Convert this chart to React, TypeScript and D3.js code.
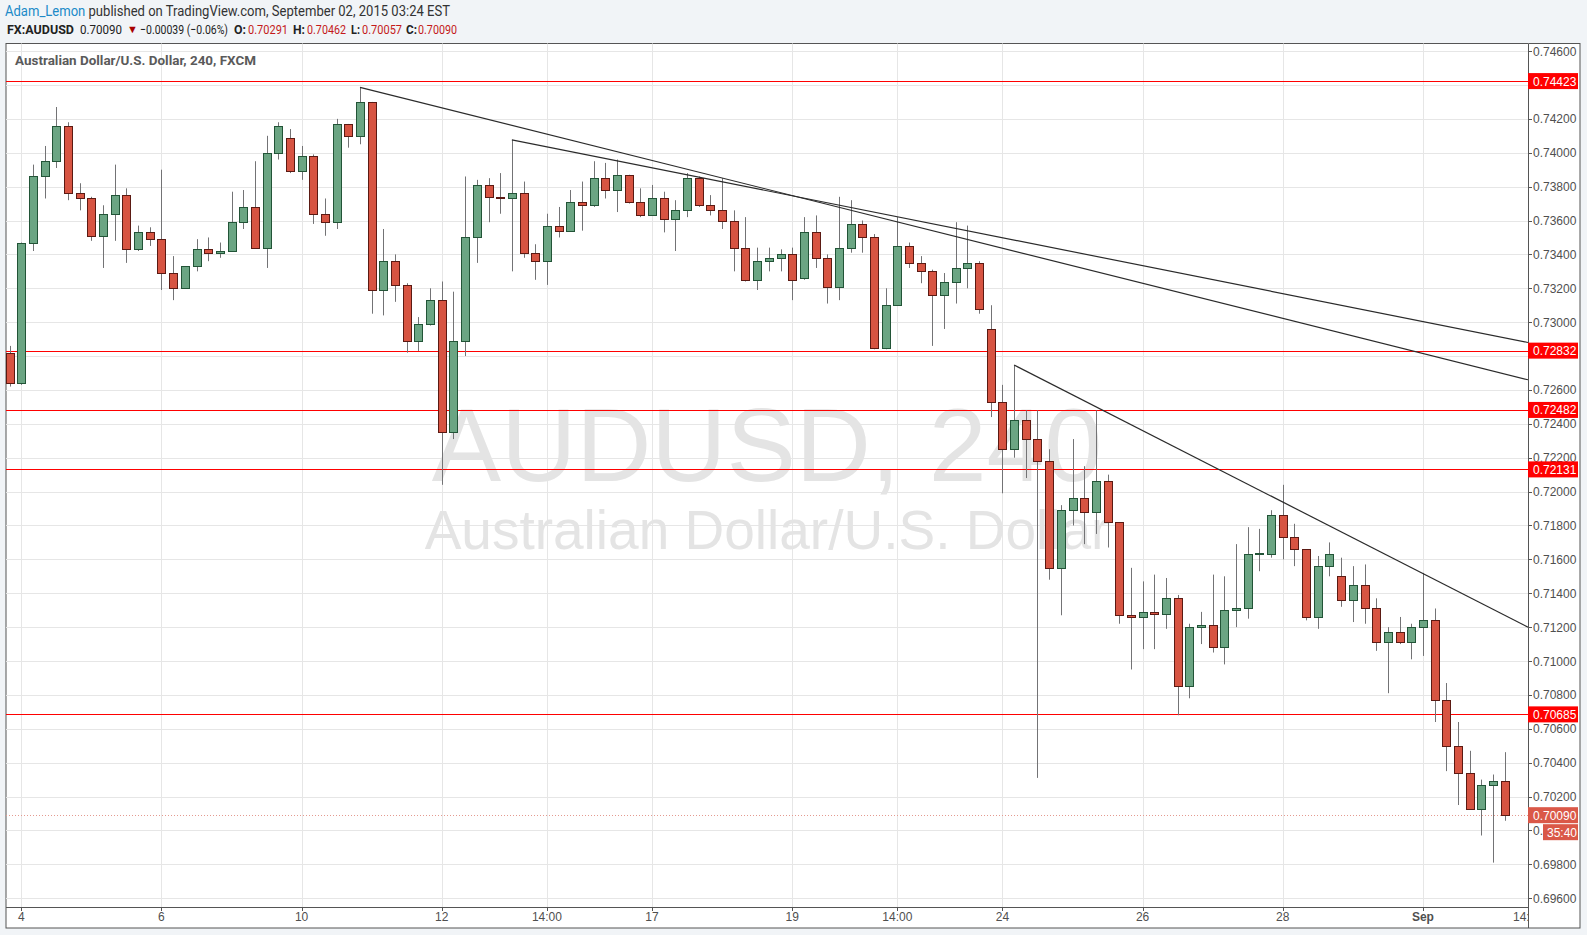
import * as d3 from "d3";

// 4h candles, AUD/USD, Aug 3 - Sep 2 2015
const opens = [
  0.7282, 0.7264, 0.7347, 0.7386, 0.7395, 0.7416, 0.7376, 0.7373, 0.7351, 0.7364,
  0.7375, 0.7343, 0.7353, 0.7349, 0.7329, 0.732, 0.7333, 0.7343, 0.7341, 0.7342,
  0.7359, 0.7368, 0.7344, 0.74, 0.7409, 0.7389, 0.7398, 0.7364, 0.7359, 0.7417,
  0.741, 0.743, 0.7319, 0.7336, 0.7322, 0.7289, 0.7299, 0.7313, 0.7235, 0.7289,
  0.735, 0.7381, 0.7374, 0.7373, 0.7376, 0.7341, 0.7336, 0.7357, 0.7354, 0.7371,
  0.7369, 0.7385, 0.7378, 0.7387, 0.7371, 0.7363, 0.7373, 0.7361, 0.7366, 0.7385,
  0.7369, 0.7366, 0.736, 0.7344, 0.7325, 0.7336, 0.7338, 0.734, 0.7326, 0.7353,
  0.7338, 0.7321, 0.7344, 0.7358, 0.735, 0.7285, 0.731, 0.7345, 0.7335, 0.733,
  0.7316, 0.7324, 0.7332, 0.7335, 0.7296, 0.7253, 0.7225, 0.7242, 0.7231, 0.7218,
  0.7155, 0.7189, 0.7196, 0.7188, 0.7206, 0.7182, 0.7127, 0.7126, 0.7129, 0.7128,
  0.7137, 0.7085, 0.712, 0.7121, 0.7108, 0.713, 0.7131, 0.7163, 0.7163, 0.7186,
  0.7173, 0.7166, 0.7126, 0.7156, 0.715, 0.7136, 0.7145, 0.7131, 0.7111, 0.7117,
  0.7111, 0.712, 0.7124, 0.7077, 0.705, 0.7034, 0.70125, 0.7027, 0.70291,
];
const highs = [
  0.7286, 0.7347, 0.7393, 0.7404, 0.7427, 0.7418, 0.7382, 0.7374, 0.7369, 0.7393,
  0.7379, 0.7357, 0.7356, 0.739, 0.7339, 0.7333, 0.7349, 0.735, 0.7347, 0.7377,
  0.7378, 0.7395, 0.741, 0.7418, 0.7414, 0.7404, 0.7399, 0.7373, 0.742, 0.7417,
  0.74386, 0.743, 0.7355, 0.734, 0.7323, 0.7303, 0.732, 0.7324, 0.7318, 0.7386,
  0.7384, 0.7385, 0.7388, 0.74076, 0.7383, 0.7346, 0.7364, 0.7368, 0.7378, 0.7383,
  0.7395, 0.7394, 0.7396, 0.7387, 0.7379, 0.7381, 0.7377, 0.7372, 0.7388, 0.7386,
  0.7375, 0.7385, 0.7366, 0.7362, 0.7344, 0.7344, 0.7343, 0.7344, 0.7362, 0.7363,
  0.734, 0.7374, 0.7372, 0.736, 0.7352, 0.732, 0.7362, 0.7347, 0.7339, 0.7331,
  0.7329, 0.7359, 0.7357, 0.7336, 0.731, 0.7263, 0.72747, 0.7248, 0.7248, 0.7225,
  0.7192, 0.7231, 0.7215, 0.7248, 0.721, 0.7182, 0.7155, 0.7147, 0.7151, 0.7149,
  0.7139, 0.7122, 0.7129, 0.7151, 0.715, 0.7169, 0.7179, 0.7178, 0.7189, 0.7204,
  0.7181, 0.7166, 0.7162, 0.717, 0.7161, 0.7156, 0.7157, 0.7137, 0.712, 0.7126,
  0.7122, 0.7152, 0.7131, 0.7087, 0.7064, 0.7047, 0.703, 0.7033, 0.70462,
];
const lows = [
  0.7262, 0.7263, 0.7342, 0.7373, 0.7391, 0.7372, 0.7366, 0.7348, 0.7332, 0.7348,
  0.7335, 0.7342, 0.7345, 0.7319, 0.7313, 0.732, 0.733, 0.7336, 0.7338, 0.7342,
  0.7355, 0.7344, 0.7332, 0.7396, 0.7388, 0.7384, 0.7358, 0.7351, 0.7355, 0.7403,
  0.7405, 0.7305, 0.7304, 0.7312, 0.7282, 0.7283, 0.7298, 0.7204, 0.7231, 0.728,
  0.7335, 0.7359, 0.7364, 0.733, 0.7338, 0.7325, 0.7322, 0.735, 0.7354, 0.7354,
  0.7368, 0.7373, 0.7365, 0.737, 0.7362, 0.7363, 0.7353, 0.7342, 0.7362, 0.7368,
  0.7363, 0.7355, 0.733, 0.7324, 0.7319, 0.733, 0.733, 0.7313, 0.7325, 0.7332,
  0.7311, 0.7313, 0.7341, 0.7341, 0.7284, 0.7284, 0.731, 0.7332, 0.7323, 0.7286,
  0.7296, 0.7311, 0.732, 0.7305, 0.7244, 0.7199, 0.722, 0.7208, 0.7031, 0.7148,
  0.7127, 0.718, 0.7169, 0.7175, 0.7167, 0.7122, 0.7095, 0.7107, 0.7107, 0.7119,
  0.7068, 0.7078, 0.711, 0.7105, 0.7098, 0.712, 0.7125, 0.7153, 0.7161, 0.716,
  0.7156, 0.7124, 0.7119, 0.715, 0.7132, 0.7123, 0.7122, 0.7106, 0.7081, 0.711,
  0.7101, 0.7103, 0.7064, 0.7035, 0.7015, 0.70125, 0.6997, 0.6981, 0.70057,
];
const closes = [
  0.7264, 0.7347, 0.7386, 0.7395, 0.7416, 0.7376, 0.7373, 0.7351, 0.7364, 0.7375,
  0.7343, 0.7353, 0.7349, 0.7329, 0.732, 0.7333, 0.7343, 0.7341, 0.7342, 0.7359,
  0.7368, 0.7344, 0.74, 0.7416, 0.7389, 0.7398, 0.7364, 0.7359, 0.7417, 0.741,
  0.743, 0.7319, 0.7336, 0.7322, 0.7289, 0.7299, 0.7313, 0.7235, 0.7289, 0.735,
  0.7381, 0.7374, 0.7373, 0.7376, 0.7341, 0.7336, 0.7357, 0.7354, 0.7371, 0.7369,
  0.7385, 0.7378, 0.7387, 0.7371, 0.7363, 0.7373, 0.7361, 0.7366, 0.7385, 0.7369,
  0.7366, 0.736, 0.7344, 0.7325, 0.7336, 0.7338, 0.734, 0.7325, 0.7353, 0.7338,
  0.7321, 0.7344, 0.7358, 0.735, 0.7285, 0.731, 0.7345, 0.7335, 0.733, 0.7316,
  0.7324, 0.7332, 0.7335, 0.7308, 0.7253, 0.7225, 0.7242, 0.7231, 0.7218, 0.7155,
  0.7189, 0.7196, 0.7188, 0.7206, 0.7182, 0.7127, 0.7126, 0.7129, 0.7128, 0.7137,
  0.7085, 0.712, 0.7121, 0.7108, 0.713, 0.7131, 0.7163, 0.7164, 0.7186, 0.7173,
  0.7166, 0.7126, 0.7156, 0.7163, 0.7136, 0.7145, 0.7131, 0.7111, 0.7117, 0.7111,
  0.712, 0.7124, 0.7077, 0.705, 0.7034, 0.70125, 0.7027, 0.70291, 0.7009,
];

const priceTicks = [
  0.696, 0.698, 0.7, 0.702, 0.704, 0.706, 0.708, 0.71, 0.712, 0.714, 0.716, 0.718,
  0.72, 0.722, 0.724, 0.726, 0.728, 0.73, 0.732, 0.734, 0.736, 0.738, 0.74, 0.742,
  0.744, 0.746,
];
const timeLabels = ["4", "6", "10", "12", "14:00", "17", "19", "14:00", "24", "26", "28", "Sep", "14:00"];
const timeBars = [1, 13, 25, 37, 46, 55, 67, 76, 85, 97, 109, 121, 130];

const levels = [0.74423, 0.72832, 0.72482, 0.72131, 0.70685];

// trend lines: start bar / price, end bar / price
const trendStart = [30, 43, 86];
const trendStartPrice = [0.74386, 0.74076, 0.72747];
const trendEnd = [130, 130, 130];
const trendEndPrice = [0.7266, 0.7288, 0.712];

const lastPrice = 0.7009;

const W = 1587;
const H = 935;
const left = 6;
const right = 1528;
const top = 43.5;
const bottom = 907;

const x = d3.scaleLinear().domain([1, 121]).range([21.3, 1422.9]);
const y = d3.scaleLinear().domain([0.696, 0.746]).range([898.2, 51.1]);

const UP_FILL = "#6ba583";
const UP_LINE = "#225437";
const DN_FILL = "#d75442";
const DN_LINE = "#5b1a13";
const WICK = "#737375";
const GRID = "#e6e6e6";
const AXIS_TXT = "#4f4f4f";
const HEAD_FONT = "Roboto, sans-serif";
const AX_FONT = "'Liberation Sans', Arial, sans-serif";

// header pieces: text, left, width, style
const quote = [
  { t: "FX:AUDUSD", x: 7, w: 67, b: true, c: "#222" },
  { t: "0.70090", x: 80, w: 42, b: false, c: "#222" },
  { t: "−0.00039 (−0.06%)", x: 140, w: 88, b: false, c: "#222" },
  { t: "O:", x: 234, w: 12, b: true, c: "#222" },
  { t: "0.70291", x: 248, w: 40, b: false, c: "#c41a1a" },
  { t: "H:", x: 293, w: 12, b: true, c: "#222" },
  { t: "0.70462", x: 307, w: 39, b: false, c: "#c41a1a" },
  { t: "L:", x: 351, w: 9, b: true, c: "#222" },
  { t: "0.70057", x: 362, w: 40, b: false, c: "#c41a1a" },
  { t: "C:", x: 406, w: 11, b: true, c: "#222" },
  { t: "0.70090", x: 418, w: 39, b: false, c: "#c41a1a" },
];

export default function App() {
  const candles = d3.range(opens.length).map((i) => ({
    i,
    o: opens[i],
    h: highs[i],
    l: lows[i],
    c: closes[i],
  }));

  // tick labels fully hidden behind a level box are not drawn
  const hidden = (p: number) => levels.some((l) => Math.abs(y(l) - y(p)) < 8);
  // the 0.70000 label sits under the countdown box
  const underTimer = (p: number) => Math.abs(p - 0.7) < 1e-9;

  return (
    <div style={{ position: "absolute", left: 0, top: 0 }}>
      <svg width={W} height={H} style={{ display: "block" }}>
        <defs>
          <clipPath id="plot">
            <rect x={left} y={top} width={right - left} height={bottom - top} />
          </clipPath>
          <clipPath id="timeAxis">
            <rect x={left} y={bottom} width={right - left} height={25} />
          </clipPath>
          <clipPath id="under3540">
            <rect x={right} y={0} width={1543 - right} height={H} />
          </clipPath>
        </defs>
        <rect width={W} height={H} fill="#f1f4f7" />

        {/* header */}
        <text x={5} y={16} fontFamily={HEAD_FONT} fontSize={14} fill="#333" textLength={445} lengthAdjust="spacingAndGlyphs">
          <tspan fill="#208ac8">Adam_Lemon</tspan>
          <tspan> published on TradingView.com, September 02, 2015 03:24 EST</tspan>
        </text>
        <g fontFamily={HEAD_FONT} fontSize={13.5}>
          {quote.map((q, k) => (
            <text
              key={k}
              x={q.x}
              y={34}
              fill={q.c}
              fontWeight={q.b ? "bold" : "normal"}
              textLength={q.w}
              lengthAdjust="spacingAndGlyphs"
            >
              {q.t}
            </text>
          ))}
          <text x={127} y={33} fill="#a80000" fontSize={11}>▼</text>
        </g>

        {/* chart frame */}
        <rect x={left} y={top} width={1580 - left} height={928 - top} fill="#fff" stroke="#555" strokeWidth={1} />

        {/* grid */}
        <g stroke={GRID} strokeWidth={1}>
          {priceTicks.map((p) => (
            <line key={p} x1={left} x2={right} y1={Math.round(y(p)) + 0.5} y2={Math.round(y(p)) + 0.5} />
          ))}
          {timeBars.map((b, k) => (
            <line key={k} x1={Math.round(x(b)) + 0.5} x2={Math.round(x(b)) + 0.5} y1={top} y2={bottom} />
          ))}
        </g>

        {/* watermark */}
        <g fill="#e4e4e4" fontFamily={AX_FONT} textAnchor="middle">
          <text x={(left + right) / 2} y={481} fontSize={104}>AUDUSD, 240</text>
          <text x={(left + right) / 2} y={549} fontSize={55}>Australian Dollar/U.S. Dollar</text>
        </g>

        <text x={15} y={65} fontFamily={HEAD_FONT} fontSize={13.5} fontWeight="bold" fill="#5a5a5a" textLength={241} lengthAdjust="spacingAndGlyphs">
          Australian Dollar/U.S. Dollar, 240, FXCM
        </text>

        <g clipPath="url(#plot)">
          {/* levels */}
          {levels.map((p) => (
            <line key={p} x1={left} x2={right} y1={Math.round(y(p)) + 0.5} y2={Math.round(y(p)) + 0.5} stroke="#ff0000" strokeWidth={1} />
          ))}
          <line
            x1={left}
            x2={right}
            y1={Math.round(y(lastPrice)) + 0.5}
            y2={Math.round(y(lastPrice)) + 0.5}
            stroke="#e49a90"
            strokeDasharray="1 2"
          />

          {/* candles */}
          {candles.map((d) => {
            const cx = Math.round(x(d.i)) + 0.5;
            const up = d.c >= d.o;
            const yt = Math.round(y(Math.max(d.o, d.c))) + 0.5;
            const yb = Math.round(y(Math.min(d.o, d.c))) + 0.5;
            return (
              <g key={d.i}>
                <line x1={cx} x2={cx} y1={y(d.h)} y2={y(d.l)} stroke={WICK} strokeWidth={1} />
                <rect
                  x={cx - 4}
                  y={yt}
                  width={8}
                  height={Math.max(1, yb - yt)}
                  fill={up ? UP_FILL : DN_FILL}
                  stroke={up ? UP_LINE : DN_LINE}
                  strokeWidth={1}
                />
              </g>
            );
          })}

          {/* trend lines */}
          {trendStart.map((s, k) => (
            <line
              key={k}
              x1={x(s)}
              y1={y(trendStartPrice[k])}
              x2={x(trendEnd[k])}
              y2={y(trendEndPrice[k])}
              stroke="#2b2b2b"
              strokeWidth={1.2}
            />
          ))}
        </g>

        {/* axes lines */}
        <line x1={right + 0.5} x2={right + 0.5} y1={top} y2={928} stroke="#555" />
        <line x1={left} x2={right} y1={bottom + 0.5} y2={bottom + 0.5} stroke="#555" />

        {/* price axis */}
        <g fontFamily={AX_FONT} fontSize={12} fill={AXIS_TXT}>
          {priceTicks.map((p) => (
            <g key={p}>
              <line x1={right} x2={right + 4} y1={Math.round(y(p)) + 0.5} y2={Math.round(y(p)) + 0.5} stroke="#555" />
              {!hidden(p) && (
                <text x={right + 5} y={y(p) + 4.5} clipPath={underTimer(p) ? "url(#under3540)" : undefined}>
                  {p.toFixed(5)}
                </text>
              )}
            </g>
          ))}
        </g>

        {/* level labels */}
        <g fontFamily={AX_FONT} fontSize={12} fill="#fff">
          {levels.map((p) => (
            <g key={p}>
              <rect x={right} y={y(p) - 8} width={50} height={16} fill="#ff0000" />
              <text x={right + 5} y={y(p) + 4.5}>
                {p.toFixed(5)}
              </text>
            </g>
          ))}
          <rect x={right} y={y(lastPrice) - 8} width={50} height={16} fill="#da5848" />
          <text x={right + 5} y={y(lastPrice) + 4.5}>
            {lastPrice.toFixed(5)}
          </text>
          <rect x={1543} y={y(lastPrice) + 9} width={35} height={16} fill="#da5848" />
          <text x={1547} y={y(lastPrice) + 21.5}>35:40</text>
        </g>

        {/* time axis */}
        <g clipPath="url(#timeAxis)" fontFamily="'Liberation Sans Narrow', 'Liberation Sans', Arial, sans-serif" fontSize={12} fill={AXIS_TXT} textAnchor="middle">
          {timeBars.map((b, k) => (
            <g key={k}>
              <line x1={Math.round(x(b)) + 0.5} x2={Math.round(x(b)) + 0.5} y1={bottom} y2={bottom + 4} stroke="#555" />
              <text x={x(b)} y={921} fontWeight={timeLabels[k] === "Sep" ? "bold" : "normal"}>
                {timeLabels[k]}
              </text>
            </g>
          ))}
        </g>
      </svg>
    </div>
  );
}
